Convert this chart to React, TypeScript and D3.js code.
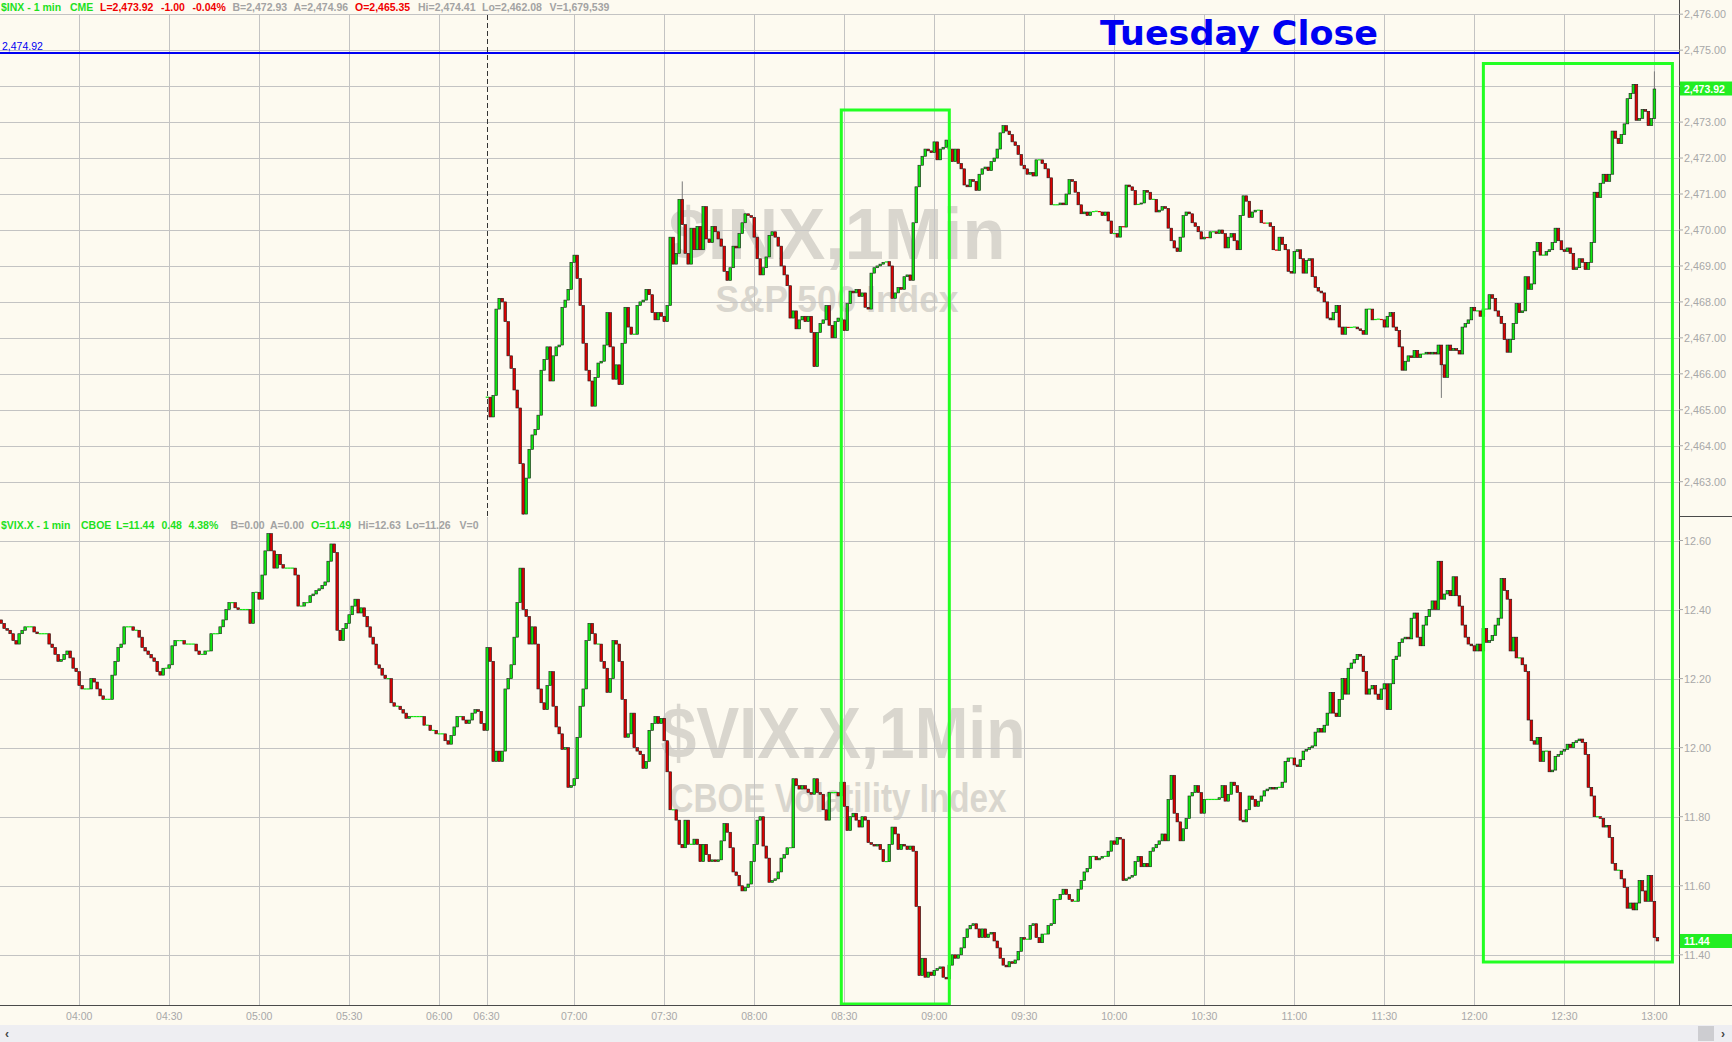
import React, { useEffect } from "react";
import * as d3 from "d3";

// ---------------- DATA ----------------
const timeTicks = ["04:00","04:30","05:00","05:30","06:00","06:30","07:00","07:30","08:00","08:30","09:00","09:30","10:00","10:30","11:00","11:30","12:00","12:30","13:00"];
const spxTickValues = [2463,2464,2465,2466,2467,2468,2469,2470,2471,2472,2473,2474,2475,2476];
const vixTickValues = [11.4,11.6,11.8,12.0,12.2,12.4,12.6];

const spxStart = "06:31";
const spxFirstOpen = 2465.35;
const spxClose = [
  2465.35,
  2464.8, 2465.4, 2467.8, 2468.1, 2468.0, 2467.45, 2466.5, 2466.15, 2465.55, 2465.05,
  2463.5, 2462.1, 2463.1, 2463.9, 2464.3, 2464.45, 2464.85, 2466.1, 2466.4, 2466.75,
  2465.8, 2466.5, 2466.75, 2466.8, 2467.85, 2468.05, 2468.35, 2469.1, 2469.3, 2468.65,
  2467.9, 2466.85, 2466.1, 2465.8, 2465.1, 2465.9, 2466.3, 2466.35, 2466.8, 2467.7,
  2466.75, 2465.85, 2466.25, 2465.7, 2466.85, 2467.85, 2467.3, 2467.1, 2467.1, 2467.9,
  2468.0, 2468.05, 2468.35, 2468.2, 2467.7, 2467.5, 2467.7, 2467.6, 2467.45, 2467.9,
  2469.8, 2469.05, 2469.35, 2470.85, 2470.15, 2469.35, 2469.05, 2470.05, 2469.45, 2470.1,
  2469.45, 2470.65, 2469.75, 2469.65, 2470.1, 2469.95, 2469.75, 2469.55, 2468.85, 2468.6,
  2468.95, 2469.55, 2469.5, 2469.9, 2470.2, 2470.45, 2470.4, 2470.35, 2469.8, 2469.2,
  2468.75, 2468.95, 2469.25, 2469.85, 2469.95, 2469.8, 2469.55, 2469.0, 2468.75, 2468.45,
  2467.55, 2467.75, 2467.25, 2467.5, 2467.6, 2467.45, 2467.6, 2467.15, 2466.2, 2467.15,
  2467.4, 2467.5, 2467.9, 2467.35, 2467.0, 2467.45, 2467.55, 2467.5, 2467.2, 2467.95,
  2468.3, 2468.25, 2468.35, 2468.15, 2468.25, 2467.85, 2467.8, 2468.8, 2468.95, 2469.0,
  2469.05, 2469.1, 2469.12, 2469.0, 2468.1, 2468.25, 2468.4, 2468.35, 2468.7, 2468.75,
  2468.6, 2470.2, 2471.2, 2471.8, 2472.05, 2472.25, 2472.2, 2472.15, 2472.45, 2471.95,
  2472.25, 2472.3, 2472.5, 2472.25, 2471.9, 2472.25, 2471.85, 2471.7, 2471.25, 2471.2,
  2471.4, 2471.35, 2471.1, 2471.55, 2471.7, 2471.75, 2471.65, 2471.9, 2472.0, 2472.25,
  2472.7, 2472.9, 2472.75, 2472.65, 2472.45, 2472.35, 2472.1, 2471.8, 2471.7, 2471.55,
  2471.6, 2471.5, 2471.95, 2471.95, 2471.85, 2471.7, 2471.45, 2470.7, 2470.7, 2470.7,
  2470.75, 2470.7, 2471.0, 2471.4, 2471.35, 2471.05, 2470.7,
  2470.45, 2470.5, 2470.4, 2470.5, 2470.52, 2470.52, 2470.5, 2470.4, 2470.5, 2470.25,
  2469.9, 2469.9, 2469.8, 2470.1, 2470.08, 2471.25, 2471.2, 2471.1, 2470.7, 2470.72,
  2470.75, 2471.1, 2471.05, 2470.85, 2470.85, 2470.5, 2470.55, 2470.65, 2470.6, 2470.05,
  2469.7, 2469.5, 2469.4, 2469.8, 2470.4, 2470.5, 2470.45, 2470.2, 2470.1, 2469.95,
  2469.75, 2469.8, 2469.78, 2469.95, 2469.95, 2469.9, 2470.0, 2469.9, 2469.5, 2469.8,
  2469.9, 2469.7, 2469.45, 2470.4, 2470.95, 2470.8, 2470.35, 2470.5, 2470.55, 2470.55,
  2470.2, 2470.18, 2470.2, 2470.1, 2469.45, 2469.43, 2469.8, 2469.6, 2469.45, 2468.85,
  2468.8, 2469.4, 2469.45, 2469.2, 2468.8, 2469.15, 2469.2, 2468.7, 2468.4, 2468.3,
  2468.25, 2468.0, 2467.55, 2467.5, 2467.7, 2467.9, 2467.3, 2467.1, 2467.3, 2467.28,
  2467.3, 2467.3, 2467.25, 2467.2, 2467.1, 2467.8, 2467.8, 2467.5, 2467.52, 2467.52,
  2467.5, 2467.3, 2467.6, 2467.7, 2467.3, 2467.2, 2466.75, 2466.1, 2466.35, 2466.5,
  2466.45, 2466.65, 2466.45, 2466.55, 2466.55, 2466.6, 2466.55, 2466.6, 2466.55, 2466.8,
  2466.25, 2465.9, 2466.8, 2466.65, 2466.7, 2466.65, 2466.55, 2467.3, 2467.4, 2467.5,
  2467.85, 2467.75, 2467.75, 2467.6, 2467.8, 2467.8, 2468.2, 2468.1, 2467.75, 2467.6,
  2467.4, 2466.95, 2466.6, 2466.95, 2467.4, 2467.95, 2467.7, 2467.75, 2468.7, 2468.35,
  2468.5, 2469.4, 2469.65, 2469.3, 2469.3, 2469.4, 2469.45, 2469.65, 2470.05, 2469.7,
  2469.45, 2469.4, 2469.5, 2469.35, 2468.9, 2468.95, 2469.2, 2469.1, 2468.9, 2469.1,
  2469.65, 2471.05, 2470.9, 2471.3, 2471.55, 2471.35, 2471.55, 2472.75, 2472.55, 2472.4,
  2472.65, 2472.95, 2473.65, 2473.8, 2474.05, 2473.05, 2473.1, 2473.35, 2473.3, 2472.9,
  2473.1, 2473.92,
];
const spxWicks = [
  { t: "06:43", hi: 2463.5, lo: 2462.08 },
  { t: "07:36", hi: 2471.35, lo: 2470.15 },
  { t: "11:49", hi: 2466.25, lo: 2465.33 },
  { t: "13:00", hi: 2474.41, lo: 2473.1 },
];

const vixPreStart = "03:34";
const vixPreFirstOpen = 12.37;
const vixPreClose = [
  12.36, 12.345, 12.34, 12.33, 12.31, 12.30, 12.33, 12.34, 12.35, 12.35,
  12.35, 12.335, 12.33, 12.33, 12.33, 12.33, 12.30, 12.29, 12.27, 12.25,
  12.255, 12.27, 12.28, 12.26, 12.23, 12.22, 12.18, 12.17, 12.17, 12.17,
  12.20, 12.19, 12.17, 12.15, 12.14, 12.14, 12.14, 12.21, 12.25, 12.29,
  12.30, 12.35, 12.35, 12.35, 12.34, 12.34, 12.32, 12.29, 12.28, 12.27,
  12.26, 12.25, 12.22, 12.21, 12.23, 12.23, 12.24, 12.295, 12.31, 12.31,
  12.31, 12.30, 12.30, 12.30, 12.30, 12.28, 12.27, 12.27, 12.28, 12.28,
  12.33, 12.33, 12.33, 12.35, 12.37, 12.40, 12.42, 12.42, 12.405, 12.40,
  12.40, 12.40, 12.40, 12.36, 12.45, 12.45, 12.43, 12.50, 12.57, 12.62,
  12.57, 12.52, 12.56, 12.53, 12.52, 12.52, 12.52, 12.52, 12.50, 12.41,
  12.41, 12.42, 12.42, 12.44, 12.445, 12.455, 12.46, 12.47, 12.48, 12.54,
  12.59, 12.565, 12.34, 12.31, 12.345, 12.36, 12.385, 12.41, 12.43, 12.39,
  12.405, 12.38, 12.35, 12.32, 12.30, 12.24, 12.23, 12.21, 12.20, 12.20,
  12.13, 12.12, 12.12, 12.11, 12.10, 12.085, 12.09, 12.09, 12.09, 12.09,
  12.09, 12.065, 12.065, 12.05, 12.05, 12.04, 12.04, 12.04, 12.02, 12.01,
  12.035, 12.06, 12.09, 12.09, 12.08, 12.07, 12.08, 12.10, 12.11, 12.105,
  12.07, 12.05,
];

const vixStart = "06:31";
const vixClose = [
  12.29, 12.25, 11.96, 11.99, 11.96, 11.99, 12.17, 12.20, 12.24, 12.32,
  12.42, 12.52, 12.40, 12.38, 12.30, 12.35, 12.30, 12.17, 12.13, 12.11,
  12.18, 12.22, 12.12, 12.06, 12.04, 11.995, 12.00, 11.885, 11.89, 11.91,
  12.03, 12.12, 12.17, 12.31, 12.36, 12.33, 12.30, 12.30, 12.25, 12.23,
  12.16, 12.20, 12.31, 12.30, 12.25, 12.14, 12.03, 12.04, 12.10, 12.00,
  11.99, 11.98, 11.94, 11.96, 12.05, 12.07, 12.09, 12.07, 12.085, 12.02,
  11.93, 11.82, 11.82, 11.79, 11.72, 11.71, 11.79, 11.72, 11.72, 11.735,
  11.72, 11.67, 11.72, 11.69, 11.67, 11.675, 11.67, 11.675, 11.73, 11.78,
  11.755, 11.71, 11.64, 11.63, 11.60, 11.585, 11.595, 11.605, 11.67, 11.72,
  11.79, 11.80, 11.715, 11.68, 11.61, 11.615, 11.62, 11.64, 11.68, 11.69,
  11.71, 11.71, 11.91, 11.89, 11.88, 11.89, 11.88, 11.87, 11.865, 11.91,
  11.87, 11.865, 11.82, 11.79, 11.87, 11.87, 11.87, 11.86, 11.90, 11.83,
  11.76, 11.80, 11.81, 11.79, 11.77, 11.80, 11.79, 11.725, 11.72, 11.715,
  11.72, 11.705, 11.67, 11.67, 11.72, 11.77, 11.75, 11.705, 11.72, 11.715,
  11.705, 11.715, 11.70, 11.54, 11.34, 11.39, 11.335, 11.35, 11.34, 11.355,
  11.36, 11.365, 11.335, 11.33, 11.37, 11.40, 11.39, 11.40, 11.42, 11.45,
  11.475, 11.485, 11.49, 11.475, 11.45, 11.475, 11.45, 11.46, 11.465, 11.44,
  11.42, 11.39, 11.37, 11.365, 11.38, 11.375, 11.385, 11.41, 11.45, 11.445,
  11.445, 11.485, 11.49, 11.45, 11.435, 11.46, 11.46, 11.485, 11.49, 11.56,
  11.56, 11.575, 11.59, 11.575, 11.56, 11.555, 11.555, 11.59, 11.615, 11.64,
  11.65, 11.685, 11.685, 11.675, 11.68, 11.685, 11.685, 11.70, 11.73, 11.72,
  11.74, 11.735, 11.615, 11.62, 11.625, 11.63, 11.67, 11.685, 11.655, 11.665,
  11.655, 11.70, 11.71, 11.72, 11.73, 11.75, 11.73, 11.85, 11.92, 11.81,
  11.785, 11.73, 11.765, 11.795, 11.86, 11.87, 11.89, 11.87, 11.81, 11.85,
  11.85, 11.85, 11.85, 11.85, 11.855, 11.89, 11.845, 11.865, 11.90, 11.89,
  11.87, 11.79, 11.785, 11.82, 11.86, 11.85, 11.83, 11.845, 11.86, 11.875,
  11.88, 11.885, 11.88, 11.885, 11.885, 11.90, 11.96, 11.97, 11.97, 11.95,
  11.945, 11.965, 11.99, 11.995, 12.00, 12.005, 12.045, 12.055, 12.045, 12.065,
  12.10, 12.16, 12.10, 12.09, 12.14, 12.20, 12.155, 12.23, 12.245, 12.255,
  12.27, 12.265, 12.22, 12.155, 12.17, 12.18, 12.155, 12.14, 12.17, 12.185,
  12.11, 12.185, 12.255, 12.265, 12.305, 12.315, 12.32, 12.315, 12.375, 12.39,
  12.32, 12.295, 12.355, 12.38, 12.40, 12.425, 12.40, 12.54, 12.43, 12.445,
  12.455, 12.44, 12.495, 12.44, 12.41, 12.355, 12.32, 12.30, 12.295, 12.28,
  12.30, 12.28, 12.345, 12.305, 12.31, 12.325, 12.355, 12.375, 12.49, 12.455,
  12.43, 12.28, 12.32, 12.26, 12.26, 12.24, 12.22, 12.08, 12.02, 12.01,
  12.03, 11.96, 11.99, 11.99, 11.93, 11.935, 11.975, 11.98, 11.99, 11.995,
  12.01, 12.00, 12.015, 12.02, 12.025, 12.015, 11.98, 11.885, 11.86, 11.80,
  11.80, 11.795, 11.77, 11.775, 11.74, 11.665, 11.645, 11.645, 11.62, 11.595,
  11.535, 11.55, 11.53, 11.55, 11.615, 11.585, 11.555, 11.63, 11.555, 11.45,
  11.44,
];

const spxHeader = [
  { text: "$INX - 1 min", color: "green", x: 1 },
  { text: "CME", color: "green", x: 70 },
  { text: "L=2,473.92", color: "red", x: 100 },
  { text: "-1.00", color: "red", x: 161 },
  { text: "-0.04%", color: "red", x: 192.5 },
  { text: "B=2,472.93", color: "gray", x: 232.5 },
  { text: "A=2,474.96", color: "gray", x: 293.5 },
  { text: "O=2,465.35", color: "red", x: 355 },
  { text: "Hi=2,474.41", color: "gray", x: 418 },
  { text: "Lo=2,462.08", color: "gray", x: 482 },
  { text: "V=1,679,539", color: "gray", x: 549.5 },
];
const vixHeader = [
  { text: "$VIX.X - 1 min", color: "green", x: 1 },
  { text: "CBOE", color: "green", x: 81 },
  { text: "L=11.44", color: "green", x: 116 },
  { text: "0.48", color: "green", x: 161.5 },
  { text: "4.38%", color: "green", x: 188.5 },
  { text: "B=0.00", color: "gray", x: 230.5 },
  { text: "A=0.00", color: "gray", x: 270 },
  { text: "O=11.49", color: "green", x: 311 },
  { text: "Hi=12.63", color: "gray", x: 358 },
  { text: "Lo=11.26", color: "gray", x: 406 },
  { text: "V=0", color: "gray", x: 459.5 },
];
const closeLevel = 2474.92;
const spxLast = 2473.92;
const vixLast = 11.44;
const box1 = { from: "08:29", to: "09:05" };
const box2 = { from: "12:03", to: "13:06" };

// ---------------- LAYOUT ----------------
const W = 1732, H = 1042;
const PLOT_R = 1679;
const TOP_Y0 = 15, TOP_Y1 = 516.5, BOT_Y0 = 517, BOT_Y1 = 1005;
const C = {
  bg: "#fdfaf0", grid: "#c3c3c3", axis: "#4a4a4a", tick: "#a8a8a8",
  up: "#0ee60e", down: "#dc0000", edge: "#1a1a1a", wick: "#7a7a7a",
  box: "#22ff22", blue: "#0000f2", wm: "#d9d6ce",
  hdr: { green: "#1ee11e", red: "#f00000", gray: "#a3a3a3" } as Record<string, string>,
};
const FONT = "'Liberation Sans', Arial, Helvetica, sans-serif";

const toMin = (s: string) => { const [h, m] = s.split(":").map(Number); return h * 60 + m; };
const PRE_END = toMin("06:15");
const GAP = 15;
const slotOf = (m: number) => (m <= PRE_END ? m : m - GAP);
const SESSION_MARK = slotOf(PRE_END) + 0.75;
const tickSlot = (t: string) => (t === "06:30" ? SESSION_MARK : slotOf(toMin(t)));

const x = d3.scaleLinear().domain([slotOf(toMin("04:00")), slotOf(toMin("13:00"))]).range([79.2, 1654.4]);
const ySpx = d3.scaleLinear().domain([2463, 2476]).range([481.7, 14.2]);
const yVix = d3.scaleLinear().domain([11.4, 12.6]).range([954.8, 540.5]);

type Bar = { slot: number; o: number; c: number; hi: number; lo: number };
function mkBars(start: string, firstOpen: number, closes: number[], wicks: { t: string; hi: number; lo: number }[] = []): Bar[] {
  const s0 = toMin(start);
  const wm = new Map(wicks.map((w) => [toMin(w.t), w]));
  return closes.map((c, i) => {
    const o = i === 0 ? firstOpen : closes[i - 1];
    const w = wm.get(s0 + i);
    return {
      slot: slotOf(s0 + i), o, c,
      hi: Math.max(o, c, w ? w.hi : -Infinity),
      lo: Math.min(o, c, w ? w.lo : Infinity),
    };
  });
}

function Candles({ bars, y }: { bars: Bar[]; y: d3.ScaleLinear<number, number> }) {
  return (
    <g>
      {bars.map((b, i) => {
        const cx = x(b.slot);
        const top = y(Math.max(b.o, b.c));
        const bot = y(Math.min(b.o, b.c));
        const flat = Math.abs(bot - top) < 1;
        const col = b.c < b.o ? C.down : C.up;
        return (
          <g key={i}>
            {(b.hi > Math.max(b.o, b.c) || b.lo < Math.min(b.o, b.c)) && (
              <line x1={cx} x2={cx} y1={y(b.hi)} y2={y(b.lo)} stroke={C.wick} strokeWidth={1} />
            )}
            {flat ? (
              <rect x={cx - 1.5} y={(top + bot) / 2 - 0.6} width={3} height={1.2} fill={col} />
            ) : (
              <rect x={cx - 1.35} y={top} width={2.7} height={bot - top} fill={col} stroke={C.edge} strokeWidth={0.6} />
            )}
          </g>
        );
      })}
    </g>
  );
}

export default function App() {
  useEffect(() => { document.body.style.margin = "0"; }, []);
  const spxBars = mkBars(spxStart, spxFirstOpen, spxClose, spxWicks);
  const vixPre = mkBars(vixPreStart, vixPreFirstOpen, vixPreClose);
  const vixSes = mkBars(vixStart, vixPreClose[vixPreClose.length - 1], vixClose);
  const fmtSpx = d3.format(",.2f");
  const fmtVix = d3.format(".2f");
  const sessionX = x(SESSION_MARK);
  const b1x0 = x(slotOf(toMin(box1.from))), b1x1 = x(slotOf(toMin(box1.to)));
  const b2x0 = x(slotOf(toMin(box2.from))), b2x1 = x(slotOf(toMin(box2.to)));

  return (
    <svg width={W} height={H} style={{ position: "absolute", left: 0, top: 0, display: "block" }} fontFamily={FONT}>
      <defs>
        <clipPath id="cTop"><rect x={0} y={TOP_Y0} width={PLOT_R} height={TOP_Y1 - TOP_Y0} /></clipPath>
        <clipPath id="cBot"><rect x={0} y={BOT_Y0} width={PLOT_R} height={BOT_Y1 - BOT_Y0} /></clipPath>
      </defs>
      <rect x={0} y={0} width={W} height={H} fill={C.bg} />

      {/* watermarks */}
      <g fill={C.wm} fontWeight="bold" textAnchor="middle">
        <text x={837} y={259} fontSize={72} textLength={337} lengthAdjust="spacingAndGlyphs">$INX,1Min</text>
        <text x={837} y={312} fontSize={36} textLength={243} lengthAdjust="spacingAndGlyphs">S&amp;P 500 Index</text>
        <text x={843} y={758} fontSize={72} textLength={365} lengthAdjust="spacingAndGlyphs">$VIX.X,1Min</text>
        <text x={838} y={812} fontSize={40} textLength={337} lengthAdjust="spacingAndGlyphs">CBOE Volatility Index</text>
      </g>

      {/* horizontal grid */}
      <g stroke={C.grid} strokeWidth={1}>
        {spxTickValues.map((v) => (
          <line key={"hs" + v} x1={0} x2={PLOT_R} y1={Math.round(ySpx(v)) + 0.5} y2={Math.round(ySpx(v)) + 0.5} />
        ))}
        {vixTickValues.map((v) => (
          <line key={"hv" + v} x1={0} x2={PLOT_R} y1={Math.round(yVix(v)) + 0.5} y2={Math.round(yVix(v)) + 0.5} />
        ))}
      </g>
      {/* vertical grid */}
      <g stroke={C.grid} strokeWidth={1}>
        {timeTicks.map((t) => {
          const xx = Math.round(x(tickSlot(t))) + 0.5;
          return t === "06:30" ? (
            <line key={t} x1={xx} x2={xx} y1={BOT_Y0} y2={BOT_Y1} />
          ) : (
            <line key={t} x1={xx} x2={xx} y1={TOP_Y0} y2={BOT_Y1} />
          );
        })}
      </g>
      <line x1={Math.round(sessionX) + 0.5} x2={Math.round(sessionX) + 0.5} y1={TOP_Y0} y2={TOP_Y1} stroke="#333" strokeDasharray="5,3" strokeWidth={1} />

      {/* close level */}
      <line x1={0} x2={PLOT_R} y1={ySpx(closeLevel)} y2={ySpx(closeLevel)} stroke={C.blue} strokeWidth={2} />
      <text x={2} y={ySpx(closeLevel) - 3} fontSize={10.5} fill={C.blue}>{fmtSpx(closeLevel)}</text>

      {/* candles */}
      <g clipPath="url(#cTop)"><Candles bars={spxBars} y={ySpx} /></g>
      <g clipPath="url(#cBot)">
        <Candles bars={vixPre} y={yVix} />
        <Candles bars={vixSes} y={yVix} />
      </g>

      {/* headers */}
      <g fontSize={10.5} fontWeight="bold">
        {spxHeader.map((h) => (
          <text key={h.text} x={h.x} y={11} fill={C.hdr[h.color]}>{h.text}</text>
        ))}
        {vixHeader.map((h) => (
          <text key={h.text} x={h.x} y={529} fill={C.hdr[h.color]}>{h.text}</text>
        ))}
      </g>

      {/* title */}
      <text x={1100} y={45} fontSize={34} fontWeight="bold" fill={C.blue} fontFamily="'DejaVu Sans', Verdana, sans-serif" textLength={278} lengthAdjust="spacingAndGlyphs">Tuesday Close</text>

      {/* highlight boxes */}
      <g fill="none" stroke={C.box} strokeWidth={3}>
        <rect x={b1x0} y={110} width={b1x1 - b1x0} height={BOT_Y1 - 110 - 1} />
        <rect x={b2x0} y={63.5} width={b2x1 - b2x0} height={962 - 63.5} />
      </g>

      {/* right axis */}
      <line x1={PLOT_R + 0.5} x2={PLOT_R + 0.5} y1={0} y2={BOT_Y1} stroke={C.axis} strokeWidth={1} />
      <line x1={PLOT_R} x2={W} y1={516.5} y2={516.5} stroke={C.axis} strokeWidth={1} />
      <g fontSize={10.8} fill={C.tick}>
        {spxTickValues.map((v) => (
          <g key={"ls" + v}>
            <line x1={PLOT_R} x2={PLOT_R + 4} y1={ySpx(v)} y2={ySpx(v)} stroke={C.tick} />
            <text x={PLOT_R + 5} y={ySpx(v) + 4}>{fmtSpx(v)}</text>
          </g>
        ))}
        {vixTickValues.map((v) => (
          <g key={"lv" + v}>
            <line x1={PLOT_R} x2={PLOT_R + 4} y1={yVix(v)} y2={yVix(v)} stroke={C.tick} />
            <text x={PLOT_R + 5} y={yVix(v) + 4}>{fmtVix(v)}</text>
          </g>
        ))}
      </g>
      {/* last value tags */}
      <rect x={PLOT_R + 1} y={ySpx(spxLast) - 7.5} width={W - PLOT_R - 1} height={14} fill="#22ee22" />
      <text x={PLOT_R + 5} y={ySpx(spxLast) + 3.5} fontSize={10.5} fontWeight="bold" fill="#ffffff">{fmtSpx(spxLast)}</text>
      <rect x={PLOT_R + 1} y={yVix(vixLast) - 7} width={W - PLOT_R - 1} height={14} fill="#22ee22" />
      <text x={PLOT_R + 5} y={yVix(vixLast) + 4} fontSize={10.5} fontWeight="bold" fill="#ffffff">{fmtVix(vixLast)}</text>

      {/* x axis */}
      <line x1={0} x2={W} y1={BOT_Y1 + 0.5} y2={BOT_Y1 + 0.5} stroke={C.axis} strokeWidth={1.2} />
      <g fontSize={10.5} fill={C.tick} textAnchor="middle">
        {timeTicks.map((t) => (
          <text key={"xt" + t} x={x(tickSlot(t))} y={1020}>{t}</text>
        ))}
      </g>

      {/* scrollbar */}
      <rect x={0} y={1025} width={W} height={17} fill="#eeeef2" />
      <rect x={1698} y={1026} width={16} height={15} fill="#cdcdd1" />
      <text x={5} y={1038} fontSize={12} fontWeight="bold" fill="#444">‹</text>
      <text x={1721} y={1038} fontSize={12} fontWeight="bold" fill="#444">›</text>
    </svg>
  );
}
